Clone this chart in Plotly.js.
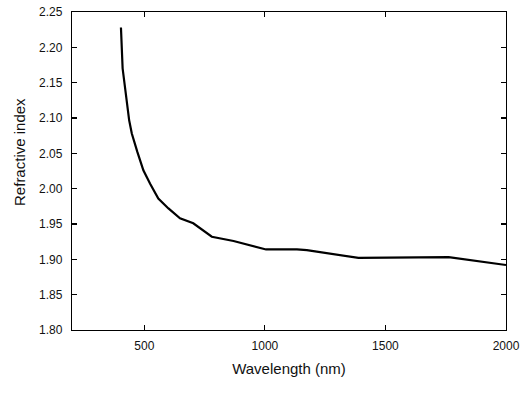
<!DOCTYPE html>
<html>
<head>
<meta charset="utf-8">
<script src="https://cdn.plot.ly/plotly-3.0.1.min.js"></script>
<style>html,body{margin:0;padding:0;background:#fff;}#chart{width:520px;height:402px;}</style>
</head>
<body>
<div id="chart"></div>
<script>
const wavelength = [403, 410, 437, 448, 471, 496, 524, 558, 600, 648, 703, 745, 780, 870, 967, 1005, 1133, 1174, 1388, 1444, 1458, 1762, 2000];
const refractiveIndex = [2.228, 2.170, 2.097, 2.078, 2.052, 2.026, 2.007, 1.986, 1.972, 1.958, 1.951, 1.941, 1.932, 1.926, 1.917, 1.914, 1.914, 1.913, 1.902, 1.902, 1.903, 1.903, 1.892];
const xTicks = [500, 1000, 1500, 2000];
const yTicks = [1.80, 1.85, 1.90, 1.95, 2.00, 2.05, 2.10, 2.15, 2.20, 2.25];

const font = "'Liberation Sans', Arial, sans-serif";
const axisCommon = {
  showgrid: false, zeroline: false, showline: true, linecolor: '#000', linewidth: 1.2,
  mirror: 'ticks', ticks: 'inside', ticklen: 5, tickwidth: 1.2, tickcolor: '#000',
  tickfont: {family: font, size: 12, color: '#111'}
};
Plotly.newPlot('chart', [{
  x: wavelength, y: refractiveIndex, type: 'scatter', mode: 'lines',
  line: {color: '#000', width: 2.2}, hoverinfo: 'skip'
}], {
  width: 520, height: 402,
  margin: {l: 72, r: 14, t: 12, b: 72},
  paper_bgcolor: '#fff', plot_bgcolor: '#fff',
  showlegend: false,
  xaxis: Object.assign({}, axisCommon, {
    range: [200, 2000], tickvals: xTicks, ticktext: xTicks.map(String),
    ticklabelstandoff: 4,
    title: {text: 'Wavelength (nm)', font: {family: font, size: 15, color: '#111'}, standoff: 12}
  }),
  yaxis: Object.assign({}, axisCommon, {
    range: [1.80, 2.25], tickvals: yTicks, ticktext: yTicks.map(v => v.toFixed(2)),
    ticklabelstandoff: 6
  }),
  annotations: [{
    text: 'Refractive index', textangle: -90, showarrow: false,
    xref: 'paper', yref: 'paper', x: (19 - 72) / 433.7, y: (330 - 152) / 318,
    xanchor: 'center', yanchor: 'middle',
    font: {family: font, size: 15, color: '#111'}
  }]
}, {staticPlot: true});
</script>
</body>
</html>
